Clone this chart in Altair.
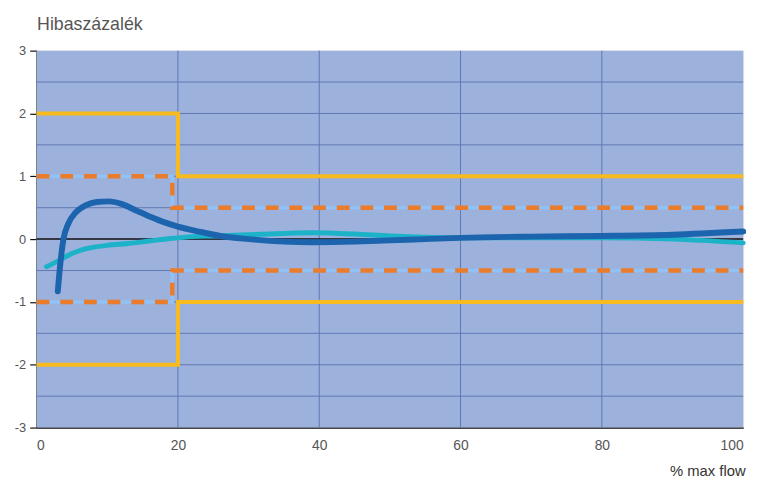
import altair as alt
import pandas as pd

# data
blue_x = [3, 3.3, 3.8, 4.5, 5.5, 7, 8.5, 10.2, 12, 14, 16, 18, 20, 23, 26, 30, 35, 39, 45, 50, 55, 60, 70, 80, 90, 100]
blue_y = [-0.83, -0.45, 0.0, 0.25, 0.42, 0.54, 0.59, 0.6, 0.56, 0.46, 0.36, 0.27, 0.2, 0.12, 0.05, 0.0, -0.04, -0.05, -0.04, -0.02, 0.0, 0.02, 0.04, 0.05, 0.07, 0.12]
cyan_x = [1.4, 3, 5, 6.4, 8, 10, 13, 16, 19, 22, 25, 30, 35, 39, 45, 50, 55, 60, 70, 80, 90, 100]
cyan_y = [-0.44, -0.35, -0.23, -0.17, -0.13, -0.1, -0.07, -0.03, 0.01, 0.04, 0.05, 0.07, 0.09, 0.1, 0.08, 0.05, 0.03, 0.02, 0.02, 0.02, 0.0, -0.06]

yellow_x = [0, 20, 20, 100]
yellow_upper = [2, 2, 1, 1]
yellow_lower = [-2, -2, -1, -1]
orange_x = [0, 19.2, 19.2, 100]
orange_upper = [1, 1, 0.5, 0.5]
orange_lower = [-1, -1, -0.5, -0.5]

x_grid = [20, 40, 60, 80]
y_grid = [-2.5, -2, -1.5, -1, -0.5, 0.5, 1, 1.5, 2, 2.5]
x_ticks = [0, 20, 40, 60, 80, 100]
y_ticks = [-3, -2, -1, 0, 1, 2, 3]

W, H = 716, 382

xs = alt.Scale(domain=[0, 100], nice=False)
ys = alt.Scale(domain=[-3, 3], nice=False)

def steps(xv, up, lo):
    rows = []
    for i, (a, b) in enumerate(zip(xv, up)):
        rows.append({"x": a, "y": b, "seg": "u", "o": i})
    for i, (a, b) in enumerate(zip(xv, lo)):
        rows.append({"x": a, "y": b, "seg": "l", "o": i})
    return pd.DataFrame(rows)

yellow_df = steps(yellow_x, yellow_upper, yellow_lower)
orange_df = steps(orange_x, orange_upper, orange_lower)
blue_df = pd.DataFrame({"x": blue_x, "y": blue_y})
cyan_df = pd.DataFrame({"x": cyan_x, "y": cyan_y})

grid_col = "#5f78b4"

xaxis = alt.Axis(values=x_ticks, grid=False, tickSize=0, labelPadding=11, labelExpr="datum.value",
                 domainColor="#111111", domainWidth=1.5, labelColor="#555555",
                 labelFontSize=14, labelFont="Liberation Sans",
                 title="% max flow", titleFontSize=15, titleFontWeight="normal",
                 titleColor="#333333", titleFont="Liberation Sans",
                 titleAnchor="end", titleAlign="right", titleX=W + 2, titleY=49,
                 titleBaseline="alphabetic")
yaxis = alt.Axis(values=y_ticks, grid=False, tickSize=7, tickColor="#111111", labelExpr="datum.value",
                 tickWidth=1.2, labelPadding=4,
                 domainColor="#111111", domainWidth=1.5, labelColor="#555555",
                 labelFontSize=13, labelFont="Liberation Sans",
                 title="Hibaszázalék", titleAngle=0, titleAlign="left",
                 titleX=0, titleY=-21, titleBaseline="alphabetic",
                 titleFontSize=18, titleFontWeight="normal",
                 titleColor="#555555", titleFont="Liberation Sans")

bg = alt.Chart(pd.DataFrame({"x": [0], "y": [0]})).mark_rect(color="#9db1dd").encode(
    x=alt.value(0), x2=alt.value(W), y=alt.value(0), y2=alt.value(H))

base_axes = alt.Chart(pd.DataFrame({"x": [0], "y": [0]})).mark_point(opacity=0).encode(
    x=alt.X("x:Q", scale=xs, axis=xaxis),
    y=alt.Y("y:Q", scale=ys, axis=yaxis),
)

vgrid = alt.Chart(pd.DataFrame({"x": x_grid})).mark_rule(color=grid_col, strokeWidth=1).encode(
    x=alt.X("x:Q", scale=xs))
hgrid = alt.Chart(pd.DataFrame({"y": y_grid})).mark_rule(color=grid_col, strokeWidth=1).encode(
    y=alt.Y("y:Q", scale=ys))
zero = alt.Chart(pd.DataFrame({"y": [0]})).mark_rule(color="#111111", strokeWidth=1.5).encode(
    y=alt.Y("y:Q", scale=ys))

def stepline(df, **kw):
    return alt.Chart(df).mark_line(**kw).encode(
        x=alt.X("x:Q", scale=xs), y=alt.Y("y:Q", scale=ys),
        detail="seg:N", order="o:Q")

yellow = stepline(yellow_df, color="#f7bb1e", strokeWidth=4, strokeJoin="miter")
orange_bg = stepline(orange_df, color="#90c2f8", strokeWidth=3.5)
orange = stepline(orange_df, color="#ea7c2c", strokeWidth=4.5, strokeDash=[13, 11])

cyan = alt.Chart(cyan_df).mark_line(color="#1cb3c9", strokeWidth=5, interpolate="monotone",
                                    strokeCap="round").encode(
    x=alt.X("x:Q", scale=xs), y=alt.Y("y:Q", scale=ys))
blue = alt.Chart(blue_df).mark_line(color="#1c64ad", strokeWidth=6, interpolate="monotone",
                                    strokeCap="round").encode(
    x=alt.X("x:Q", scale=xs), y=alt.Y("y:Q", scale=ys))

chart = alt.layer(bg, base_axes, vgrid, hgrid, orange_bg, orange, yellow, zero, cyan, blue).properties(
    width=W, height=H,
    autosize=alt.AutoSizeParams(type="none"),
    padding={"left": 29, "top": 40, "right": 10, "bottom": 56},
).configure_view(strokeWidth=0).configure(background="white")

chart.save("out.html", embed_options={"renderer": "svg", "actions": False})
